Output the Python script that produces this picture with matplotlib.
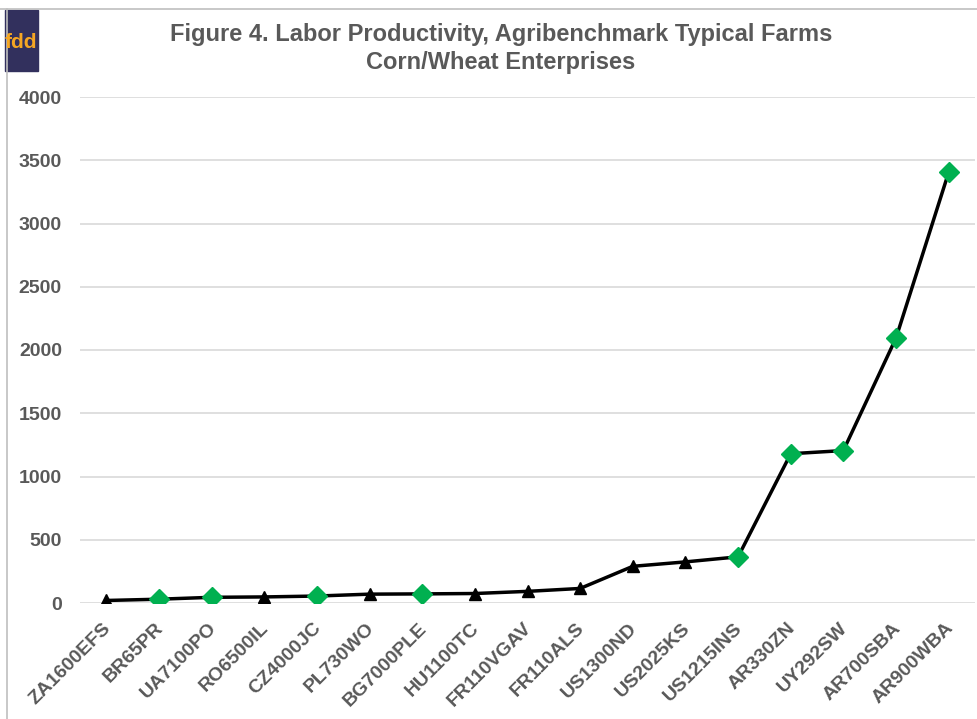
import matplotlib.pyplot as plt
from matplotlib.patches import Rectangle
from matplotlib.lines import Line2D
from matplotlib.transforms import ScaledTranslation

plt.rcParams['font.family'] = ['Liberation Sans', 'DejaVu Sans']

farms = ['ZA1600EFS', 'BR65PR', 'UA7100PO', 'RO6500IL', 'CZ4000JC', 'PL730WO',
         'BG7000PLE', 'HU1100TC', 'FR110VGAV', 'FR110ALS', 'US1300ND', 'US2025KS',
         'US1215INS', 'AR330ZN', 'UY292SW', 'AR700SBA', 'AR900WBA']
productivity = [20, 30, 45, 48, 55, 70, 72, 75, 92, 115, 290, 325, 365,
                1180, 1205, 2095, 3405]
highlight = ['BR65PR', 'UA7100PO', 'CZ4000JC', 'BG7000PLE', 'US1215INS',
             'AR330ZN', 'UY292SW', 'AR700SBA', 'AR900WBA']

grey = '#595959'
green = '#00B050'

fig = plt.figure(figsize=(9.78, 7.19), dpi=100)
ax = fig.add_axes([80 / 978, 1 - 603 / 719, 895 / 978, 506 / 719])

x = list(range(len(farms)))
ax.plot(x, productivity, color='black', lw=2.5, zorder=3)
for i, (name, v) in enumerate(zip(farms, productivity)):
    if name in highlight:
        ax.plot(i, v, marker='D', ms=10, color=green, mec=green, zorder=4)
    else:
        ax.plot(i, v, marker='^', ms=8, color='black', zorder=4)

ax.set_xlim(-0.5, len(farms) - 0.5)
ax.set_ylim(0, 4000)
ax.set_yticks(range(0, 4001, 500))
ax.grid(axis='y', color='#d9d9d9', lw=1.2)
ax.set_axisbelow(True)
for s in ax.spines.values():
    s.set_visible(False)
ax.tick_params(length=0)
ax.tick_params(axis='y', pad=13)
ax.tick_params(axis='x', pad=12)
ax.set_xticks(x)
ax.set_xticklabels(farms, rotation=45, ha='right', rotation_mode='anchor')
shift = ScaledTranslation(-4 / 100, 0, fig.dpi_scale_trans)
for lab in ax.get_xticklabels():
    lab.set_transform(lab.get_transform() + shift)
for lab in ax.get_xticklabels() + ax.get_yticklabels():
    lab.set_color(grey)
    lab.set_fontweight('bold')
    lab.set_fontsize(14)

fig.text(0.512, 1 - 35 / 719, 'Figure 4. Labor Productivity, Agribenchmark Typical Farms',
         ha='center', va='center', fontsize=17, fontweight='bold', color=grey)
fig.text(0.512, 1 - 62 / 719, 'Corn/Wheat Enterprises',
         ha='center', va='center', fontsize=17, fontweight='bold', color=grey)

# frame lines and logo
fig.add_artist(Line2D([0, 1], [1 - 9 / 719, 1 - 9 / 719], color='#bfbfbf', lw=1.2))
fig.add_artist(Line2D([7 / 978, 7 / 978], [0, 1 - 9 / 719], color='#bfbfbf', lw=1.2))
fig.add_artist(Rectangle((5 / 978, 1 - 71 / 719), 33 / 978, 61 / 719,
                         color='#32305d', transform=fig.transFigure))
fig.text(21 / 978, 1 - 42 / 719, 'fdd', ha='center', va='center',
         fontsize=15, fontweight='bold', color='#f5a623')

fig.savefig('out.png', dpi=100)
